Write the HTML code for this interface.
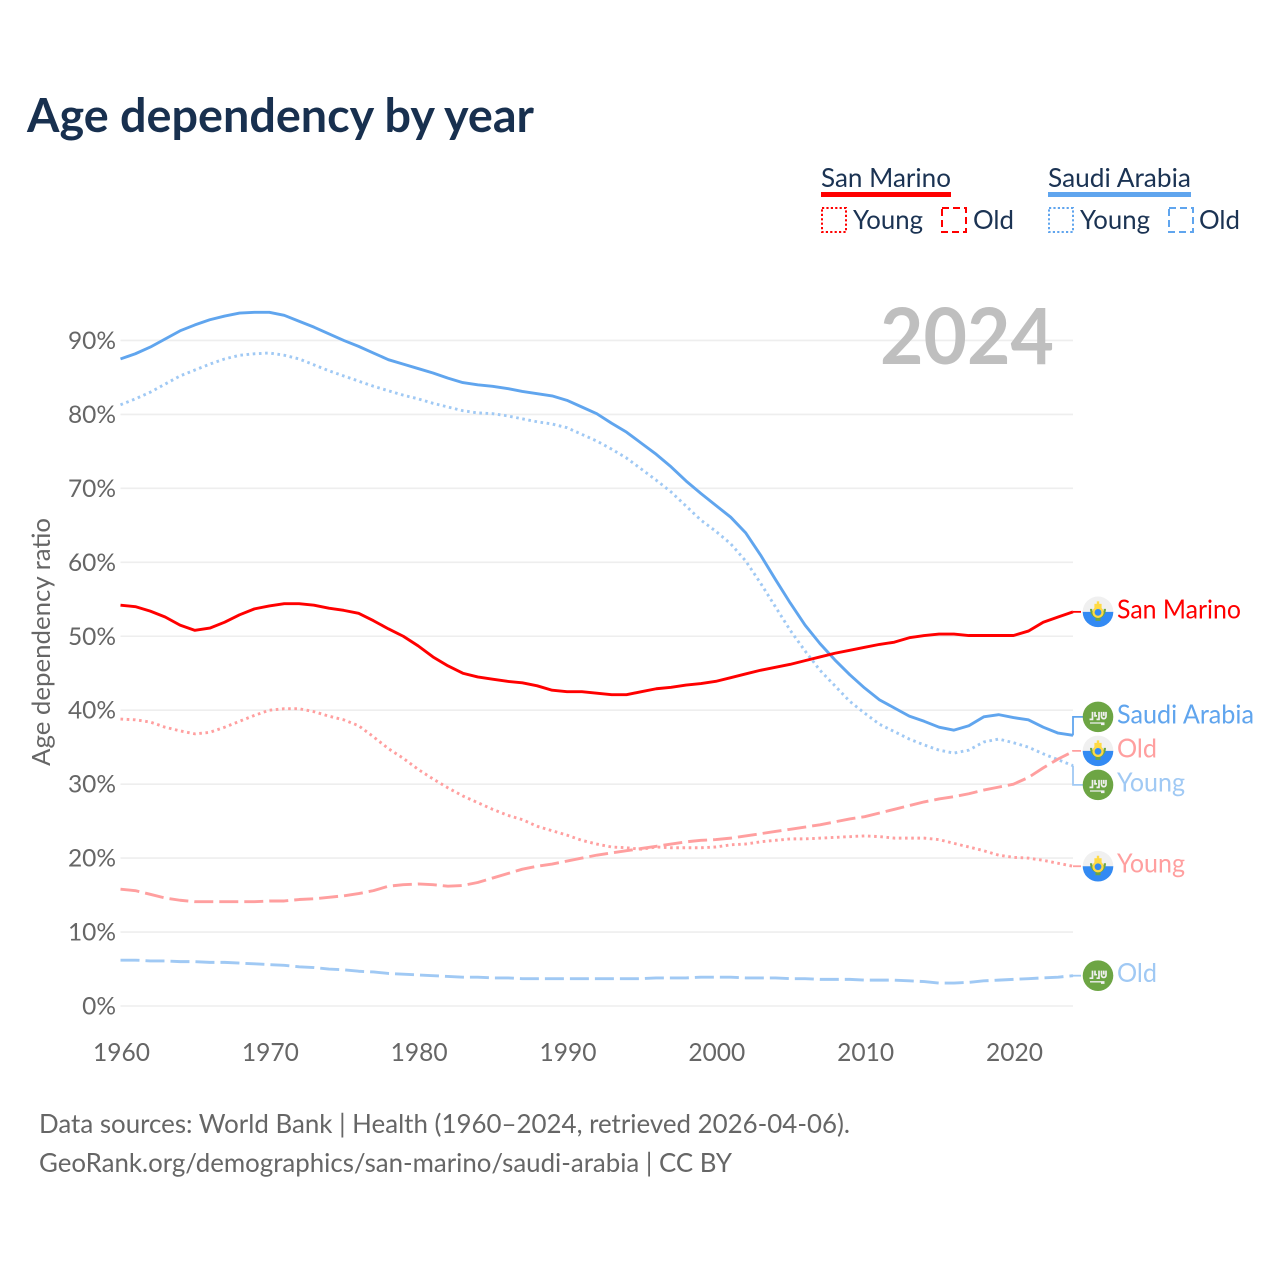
<!DOCTYPE html>
<html lang="en">
<head>
<meta charset="utf-8">
<title>Age dependency by year</title>
<style>
html,body{margin:0;padding:0;background:#fff;}
svg{display:block;}
text{font-family:"Lato","Carlito","Liberation Sans",sans-serif;}
</style>
</head>
<body>
<svg id="chart" xmlns="http://www.w3.org/2000/svg" width="1280" height="1280" viewBox="0 0 1280 1280">
  <rect x="0" y="0" width="1280" height="1280" fill="#fff"/>
  <text x="27" y="132" font-size="47" font-weight="700" fill="#18304f" textLength="507" lengthAdjust="spacingAndGlyphs">Age dependency by year</text>

  <g font-size="26.5" fill="#1b3353">
    <text x="821" y="187" textLength="130" lengthAdjust="spacingAndGlyphs">San Marino</text>
    <rect x="821" y="192" width="130" height="5" fill="#ff0000"/>
    <rect x="822" y="208" width="24" height="24" fill="none" stroke="#ff0000" stroke-width="2" stroke-dasharray="2.2 2.2"/>
    <text x="853" y="229" textLength="70" lengthAdjust="spacingAndGlyphs">Young</text>
    <rect x="942" y="208" width="24" height="24" fill="none" stroke="#ff0000" stroke-width="2" stroke-dasharray="7 4"/>
    <text x="973" y="229" textLength="41" lengthAdjust="spacingAndGlyphs">Old</text>
    <text x="1048" y="187" textLength="143" lengthAdjust="spacingAndGlyphs">Saudi Arabia</text>
    <rect x="1048" y="192" width="143" height="5" fill="#60a5ee"/>
    <rect x="1049" y="208" width="24" height="24" fill="none" stroke="#60a5ee" stroke-width="2" stroke-dasharray="2.2 2.2"/>
    <text x="1080" y="229" textLength="70" lengthAdjust="spacingAndGlyphs">Young</text>
    <rect x="1169" y="208" width="24" height="24" fill="none" stroke="#60a5ee" stroke-width="2" stroke-dasharray="7 4"/>
    <text x="1199" y="229" textLength="41" lengthAdjust="spacingAndGlyphs">Old</text>
  </g>

  <g id="grid"></g>
  <text x="880" y="364" font-size="78" font-weight="700" fill="#bfbfbf" textLength="174" lengthAdjust="spacingAndGlyphs">2024</text>
  <g id="yticks" font-size="24.5" fill="#666"></g>
  <g id="xticks" font-size="25" fill="#666"></g>
  <text transform="translate(50 642) rotate(-90)" text-anchor="middle" font-size="25" fill="#666" textLength="248" lengthAdjust="spacingAndGlyphs">Age dependency ratio</text>
  <g id="series"></g>
  <g id="labels" font-size="26.5"></g>

  <g font-size="26" fill="#666">
    <text x="39" y="1133" textLength="811" lengthAdjust="spacingAndGlyphs">Data sources: World Bank | Health (1960–2024, retrieved 2026-04-06).</text>
    <text x="39" y="1172" textLength="693" lengthAdjust="spacingAndGlyphs">GeoRank.org/demographics/san-marino/saudi-arabia | CC BY</text>
  </g>
</svg>

<script>
const startYear = 1960;
const endYear = 2024;
const yTickValues = [0, 10, 20, 30, 40, 50, 60, 70, 80, 90];
const xTickValues = [1960, 1970, 1980, 1990, 2000, 2010, 2020];

const saudiTotal = [87.5,88.2,89.1,90.2,91.3,92.1,92.8,93.3,93.7,93.8,93.8,93.4,92.6,91.8,90.9,90.0,89.2,88.3,87.4,86.8,86.2,85.6,84.9,84.3,84.0,83.8,83.5,83.1,82.8,82.5,81.9,81.0,80.1,78.8,77.6,76.1,74.6,72.9,71.0,69.3,67.7,66.1,64.0,61.0,57.7,54.5,51.5,49.0,46.8,44.8,43.0,41.4,40.3,39.2,38.5,37.7,37.3,37.9,39.1,39.4,39.0,38.7,37.7,36.9,36.6];
const saudiYoung = [81.3,82.1,83.0,84.1,85.2,86.0,86.8,87.5,88.0,88.2,88.3,88.0,87.5,86.7,85.9,85.2,84.5,83.8,83.2,82.6,82.1,81.5,81.0,80.5,80.2,80.1,79.8,79.4,79.0,78.7,78.2,77.3,76.4,75.3,74.1,72.6,71.1,69.5,67.6,65.7,64.2,62.5,60.2,57.2,54.0,50.8,48.0,45.4,43.3,41.2,39.6,38.1,37.1,36.1,35.3,34.6,34.2,34.6,35.7,36.1,35.6,35.0,34.1,33.3,32.5];
const saudiOld = [6.2,6.2,6.1,6.1,6.0,6.0,5.9,5.9,5.8,5.7,5.6,5.5,5.3,5.2,5.0,4.9,4.7,4.6,4.4,4.3,4.2,4.1,4.0,3.9,3.9,3.8,3.8,3.7,3.7,3.7,3.7,3.7,3.7,3.7,3.7,3.7,3.8,3.8,3.8,3.9,3.9,3.9,3.8,3.8,3.8,3.7,3.7,3.6,3.6,3.6,3.5,3.5,3.5,3.4,3.3,3.1,3.1,3.2,3.4,3.5,3.6,3.7,3.8,3.9,4.1];
const sanMarinoTotal = [54.2,54.0,53.4,52.6,51.5,50.8,51.1,51.9,52.9,53.7,54.1,54.4,54.4,54.2,53.8,53.5,53.1,52.1,51.0,50.0,48.7,47.2,46.0,45.0,44.5,44.2,43.9,43.7,43.3,42.7,42.5,42.5,42.3,42.1,42.1,42.5,42.9,43.1,43.4,43.6,43.9,44.4,44.9,45.4,45.8,46.2,46.7,47.2,47.7,48.1,48.5,48.9,49.2,49.8,50.1,50.3,50.3,50.1,50.1,50.1,50.1,50.7,51.9,52.6,53.3];
const sanMarinoYoung = [38.8,38.7,38.4,37.7,37.2,36.8,37.0,37.7,38.5,39.3,40.0,40.2,40.2,39.8,39.2,38.7,37.9,36.4,34.8,33.5,32.0,30.7,29.5,28.4,27.5,26.6,25.8,25.2,24.3,23.7,23.1,22.4,21.9,21.5,21.4,21.2,21.5,21.4,21.4,21.4,21.5,21.8,21.9,22.2,22.4,22.6,22.6,22.7,22.8,22.9,23.0,22.9,22.7,22.7,22.7,22.5,22.0,21.5,21.0,20.4,20.1,20.0,19.7,19.3,18.9];
const sanMarinoOld = [15.8,15.6,15.1,14.6,14.3,14.1,14.1,14.1,14.1,14.1,14.2,14.2,14.4,14.5,14.7,14.9,15.2,15.6,16.2,16.4,16.5,16.4,16.2,16.3,16.7,17.3,17.9,18.5,18.9,19.2,19.6,20.0,20.4,20.7,21.0,21.3,21.6,21.9,22.2,22.4,22.5,22.7,23.0,23.3,23.6,23.9,24.2,24.5,24.9,25.3,25.6,26.1,26.6,27.1,27.6,28.0,28.3,28.7,29.2,29.6,30.0,30.9,32.2,33.4,34.4];

const NS = 'http://www.w3.org/2000/svg';
const plotLeft = 120.5, plotRight = 1073, plotBottom = 1006, pxPerPercent = 7.395;
function xScale(year) { return plotLeft + (year - startYear) * (plotRight - plotLeft) / (endYear - startYear); }
function yScale(value) { return plotBottom - value * pxPerPercent; }

const gridG = document.getElementById('grid');
const yTickG = document.getElementById('yticks');
const xTickG = document.getElementById('xticks');
const seriesG = document.getElementById('series');
const labelG = document.getElementById('labels');

yTickValues.forEach(function (v) {
  const line = document.createElementNS(NS, 'line');
  
  
  line.setAttribute('x1', plotLeft);
  line.setAttribute('x2', plotRight);
  line.setAttribute('y1', yScale(v));
  line.setAttribute('y2', yScale(v));
  line.setAttribute('stroke', '#eeeeee');
  line.setAttribute('stroke-width', '1.6');
  gridG.appendChild(line);
  const t = document.createElementNS(NS, 'text');
  
  
  t.setAttribute('x', 116);
  t.setAttribute('y', yScale(v) + 8.5);
  t.setAttribute('text-anchor', 'end');
  t.textContent = v + '%';
  yTickG.appendChild(t);
});

xTickValues.forEach(function (year) {
  const t = document.createElementNS(NS, 'text');
  
  
  t.setAttribute('x', xScale(year) + 1);
  t.setAttribute('y', 1061);
  t.setAttribute('text-anchor', 'middle');
  t.setAttribute('textLength', '57');
  t.setAttribute('lengthAdjust', 'spacingAndGlyphs');
  t.textContent = year;
  xTickG.appendChild(t);
});

const dotted = '2.6 3.6';
const dashed = '19 6';
const seriesList = [
  { id: 'saudi-arabia-old', values: saudiOld, color: '#a0c9f4', dash: dashed, label: 'Old', flag: 'sa', labelWidth: 40 },
  { id: 'saudi-arabia-young', values: saudiYoung, color: '#a0c9f4', dash: dotted, label: 'Young', flag: 'sa', labelWidth: 68 },
  { id: 'saudi-arabia-total', values: saudiTotal, color: '#60a5ee', dash: null, label: 'Saudi Arabia', flag: 'sa', labelWidth: 137 },
  { id: 'san-marino-old', values: sanMarinoOld, color: '#ff9f9f', dash: dashed, label: 'Old', flag: 'sm', labelWidth: 40 },
  { id: 'san-marino-young', values: sanMarinoYoung, color: '#ff9f9f', dash: dotted, label: 'Young', flag: 'sm', labelWidth: 68 },
  { id: 'san-marino-total', values: sanMarinoTotal, color: '#ff0000', dash: null, label: 'San Marino', flag: 'sm', labelWidth: 124 }
];

seriesList.forEach(function (s) {
  const points = s.values.map(function (v, i) { return xScale(startYear + i).toFixed(2) + ',' + yScale(v).toFixed(2); }).join(' ');
  const line = document.createElementNS(NS, 'polyline');
  
  
  line.setAttribute('points', points);
  line.setAttribute('fill', 'none');
  line.setAttribute('stroke', s.color);
  line.setAttribute('stroke-width', '2.9');
  line.setAttribute('stroke-linejoin', 'round');
  if (s.dash) { line.setAttribute('stroke-dasharray', s.dash); }
  seriesG.appendChild(line);
});

/* dodge end labels so they keep a minimum gap of 34px */
const minGap = 34;
const ordered = seriesList.map(function (s) {
  return { s: s, end: yScale(s.values[s.values.length - 1]) };
}).sort(function (a, b) { return a.end - b.end; });
let clusters = ordered.map(function (o) { return { items: [o], center: o.end }; });
let merged = true;
while (merged) {
  merged = false;
  for (let i = 0; i < clusters.length - 1; i++) {
    const a = clusters[i], b = clusters[i + 1];
    const aBottom = a.center + (a.items.length - 1) * minGap / 2;
    const bTop = b.center - (b.items.length - 1) * minGap / 2;
    if (bTop - aBottom < minGap) {
      const items = a.items.concat(b.items);
      const mean = items.reduce(function (sum, o) { return sum + o.end; }, 0) / items.length;
      clusters.splice(i, 2, { items: items, center: mean });
      merged = true;
      break;
    }
  }
}

function drawFlag(parent, kind, cx, cy) {
  const g = document.createElementNS(NS, 'g');
  g.setAttribute('transform', 'translate(' + cx + ' ' + cy + ')');
  if (kind === 'sm') {
    
    
    g.innerHTML =
      '<circle r="15.3" fill="#f0f0f0"/>' +
      '<path d="M-15.3 0A15.3 15.3 0 0 0 15.3 0Z" fill="#338af3"/>' +
      '<path d="M-8 -3A8 9.5 0 0 0 8 -3L5.8 -3A5.8 7 0 0 1 -5.8 -3Z" fill="#6da544"/>' +
      '<rect x="-2.5" y="6" width="5" height="3" fill="#6da544"/>' +
      '<circle cy="0.5" r="5.6" fill="#ffda44"/>' +
      '<circle cy="0.5" r="3.4" fill="#338af3"/>' +
      '<rect x="-3.6" y="-8" width="7.2" height="4.5" fill="#ffda44"/>' +
      '<rect x="-1.2" y="-10.5" width="2.4" height="3" fill="#ffda44"/>';
  } else {
    
    
    g.innerHTML =
      '<circle r="15.3" fill="#6da544"/>' +
      '<path d="M-8.5 2.5L-5.5 2.5L-5.5 -5M-3 -5L-3 -1L-1 -1M1 -5L1 2.5L-1.5 2.5M3.5 -5L3.5 -0.5C3.5 2.5 8 2.5 8 -0.5L8 -5M5.8 -5L5.8 -1" fill="none" stroke="#f0f0f0" stroke-width="1.7"/>' +
      '<path d="M-8 5.5L6.5 5.5L6.5 8.2L3 8.2L3 6.8L-8 6.8Z" fill="#f0f0f0"/>';
  }
  parent.appendChild(g);
}

clusters.forEach(function (c) {
  c.items.forEach(function (o, i) {
    const labelY = c.center + (i - (c.items.length - 1) / 2) * minGap;
    const s = o.s;
    const isStraight = Math.abs(labelY - o.end) < 1;
    const conn = document.createElementNS(NS, 'polyline');
    
    
    conn.setAttribute('points', plotRight + ',' + o.end.toFixed(2) + ' ' + plotRight + ',' + labelY.toFixed(2) + ' ' + (plotRight + (isStraight ? 8 : 11)) + ',' + labelY.toFixed(2));
    conn.setAttribute('fill', 'none');
    conn.setAttribute('stroke', s.color);
    conn.setAttribute('stroke-width', '1.8');
    labelG.appendChild(conn);
    drawFlag(labelG, s.flag, 1098, labelY);
    const t = document.createElementNS(NS, 'text');
    
    
    t.setAttribute('x', 1117);
    t.setAttribute('y', labelY + 6.5);
    t.setAttribute('fill', s.color);
    t.setAttribute('textLength', s.labelWidth);
    t.setAttribute('lengthAdjust', 'spacingAndGlyphs');
    t.textContent = s.label;
    labelG.appendChild(t);
  });
});
</script>
</body>
</html>
